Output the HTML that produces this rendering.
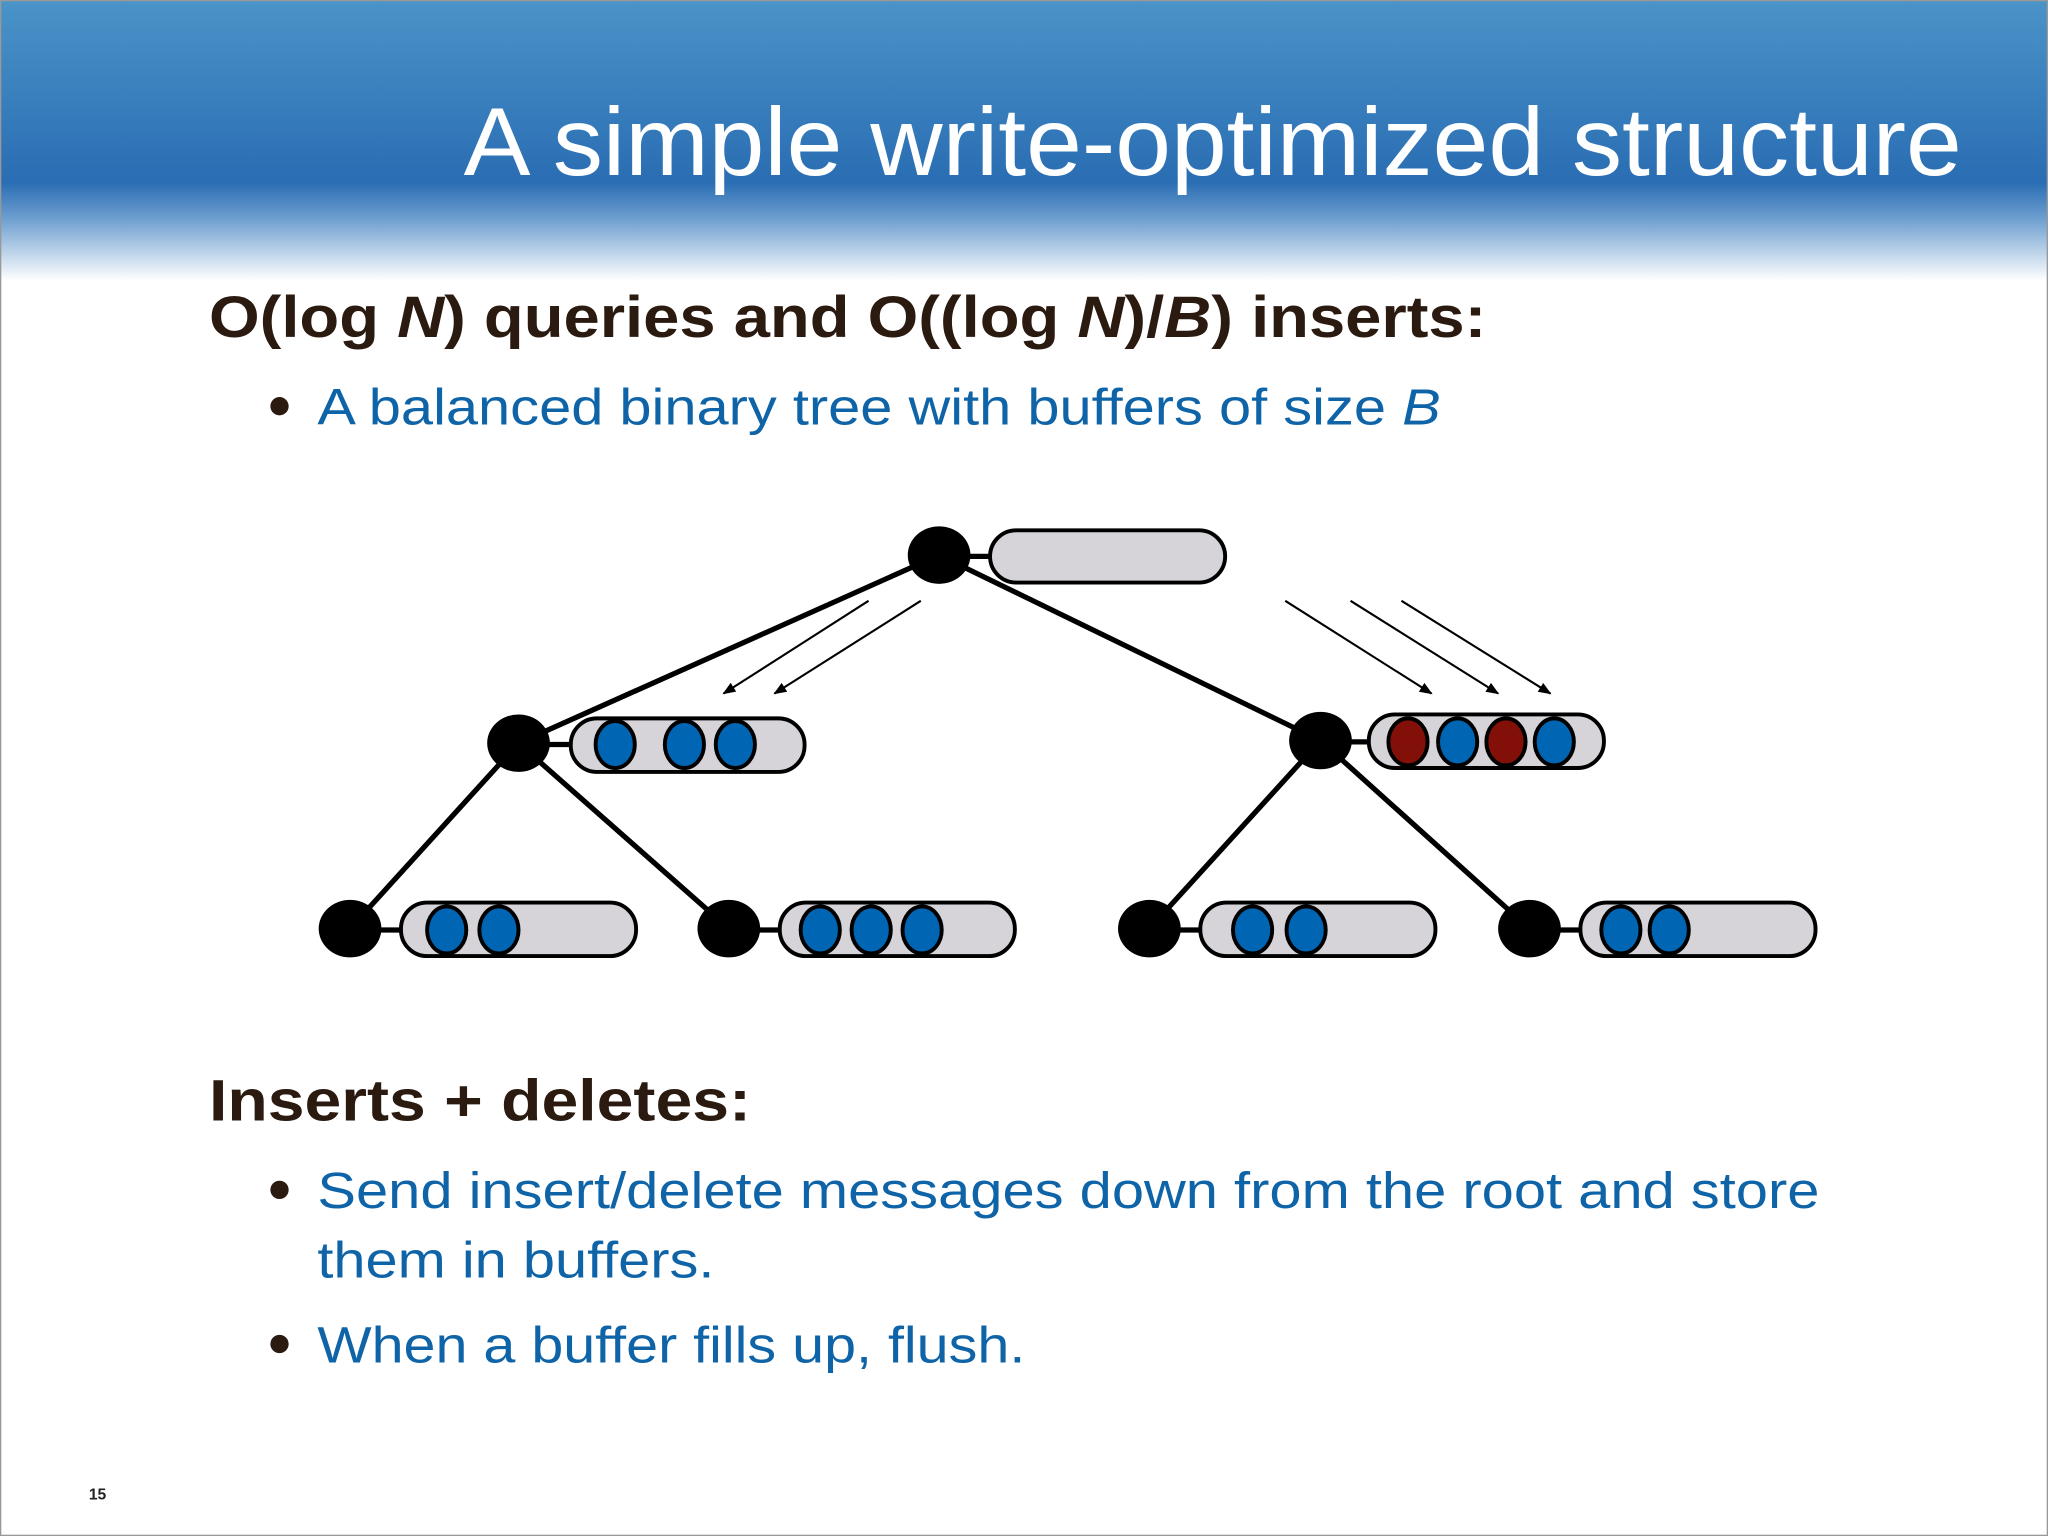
<!DOCTYPE html>
<html><head><meta charset="utf-8"><style>
html,body{margin:0;padding:0;background:#fff;}
svg{display:block;}
</style></head><body>
<svg width="2048" height="1536" viewBox="0 0 1568 1176" xmlns="http://www.w3.org/2000/svg">
<defs>
<linearGradient id="hd" x1="0" y1="0" x2="0" y2="1">
<stop offset="0" stop-color="#4a94c8"/>
<stop offset="0.65" stop-color="#2a6db3"/>
<stop offset="0.78" stop-color="#6f9fd0"/>
<stop offset="1" stop-color="#ffffff"/>
</linearGradient>
<marker id="ah" markerWidth="10" markerHeight="8" refX="9" refY="4" orient="auto" markerUnits="userSpaceOnUse">
<path d="M0,0 L10,4 L0,8 Z" fill="#000"/>
</marker>
</defs>
<rect x="0" y="0" width="1568" height="1176" fill="#fff"/>
<rect x="0" y="0" width="1568" height="215" fill="url(#hd)"/>
<rect x="0.5" y="0.5" width="1567" height="1175" fill="none" stroke="#999" stroke-width="1"/>
<text x="355" y="134" textLength="1147" lengthAdjust="spacingAndGlyphs" font-family="Liberation Sans, sans-serif" font-size="74" fill="#fff">A simple write-optimized structure</text>
<g font-family="Liberation Sans, sans-serif">
<text x="160" y="258" textLength="978" lengthAdjust="spacingAndGlyphs" font-size="45" font-weight="bold" fill="#2a1a10">O(log <tspan font-style="italic">N</tspan>) queries and O((log <tspan font-style="italic">N</tspan>)/<tspan font-style="italic">B</tspan>) inserts:</text>
<circle cx="214" cy="311" r="7" fill="#2a1a10"/>
<text x="243" y="325" textLength="860" lengthAdjust="spacingAndGlyphs" font-size="39" fill="#0f64a8">A balanced binary tree with buffers of size <tspan font-style="italic">B</tspan></text>
<text x="160" y="858" textLength="415" lengthAdjust="spacingAndGlyphs" font-size="45" font-weight="bold" fill="#2a1a10">Inserts + deletes:</text>
<circle cx="214" cy="911" r="7" fill="#2a1a10"/>
<text x="243" y="925" textLength="1150" lengthAdjust="spacingAndGlyphs" font-size="39" fill="#0f64a8">Send insert/delete messages down from the root and store</text>
<text x="243" y="978" textLength="304" lengthAdjust="spacingAndGlyphs" font-size="39" fill="#0f64a8">them in buffers.</text>
<circle cx="214" cy="1029" r="7" fill="#2a1a10"/>
<text x="243" y="1043" textLength="542" lengthAdjust="spacingAndGlyphs" font-size="39" fill="#0f64a8">When a buffer fills up, flush.</text>
<text x="68" y="1148" font-size="12" font-weight="bold" fill="#222">15</text>
</g>
<g stroke="#000" stroke-width="4">
<line x1="719" y1="425" x2="397" y2="569"/>
<line x1="719" y1="425" x2="1011" y2="567"/>
<line x1="397" y1="569" x2="268" y2="711"/>
<line x1="397" y1="569" x2="558" y2="711"/>
<line x1="1011" y1="567" x2="880" y2="711"/>
<line x1="1011" y1="567" x2="1171" y2="711"/>
<line x1="719" y1="426" x2="760" y2="426"/>
<line x1="397" y1="570" x2="440" y2="570"/>
<line x1="1011" y1="568" x2="1050" y2="568"/>
<line x1="268" y1="712" x2="310" y2="712"/>
<line x1="558" y1="712" x2="600" y2="712"/>
<line x1="880" y1="712" x2="922" y2="712"/>
<line x1="1171" y1="712" x2="1213" y2="712"/>
</g>
<g stroke="#000" stroke-width="1.6" marker-end="url(#ah)">
<line x1="665" y1="460" x2="554" y2="531"/>
<line x1="705" y1="460" x2="593" y2="531"/>
<line x1="984" y1="460" x2="1096" y2="531"/>
<line x1="1034" y1="460" x2="1147" y2="531"/>
<line x1="1073" y1="460" x2="1187" y2="531"/>
</g>
<g fill="#d6d4d8" stroke="#000" stroke-width="3">
<rect x="758" y="406" width="180" height="40" rx="20"/>
<rect x="437" y="550" width="179" height="41" rx="20"/>
<rect x="1048" y="547" width="180" height="41" rx="20"/>
<rect x="307" y="691" width="180" height="41" rx="20"/>
<rect x="597" y="691" width="180" height="41" rx="20"/>
<rect x="919" y="691" width="180" height="41" rx="20"/>
<rect x="1210" y="691" width="180" height="41" rx="20"/>
</g>
<g fill="#0066b3" stroke="#000" stroke-width="3">
<ellipse cx="471" cy="570" rx="15" ry="18"/>
<ellipse cx="524" cy="570" rx="15" ry="18"/>
<ellipse cx="563" cy="570" rx="15" ry="18"/>
<ellipse cx="1078" cy="568" rx="15" ry="18" fill="#831008"/>
<ellipse cx="1116" cy="568" rx="15" ry="18"/>
<ellipse cx="1153" cy="568" rx="15" ry="18" fill="#831008"/>
<ellipse cx="1190" cy="568" rx="15" ry="18"/>
<ellipse cx="342" cy="712" rx="15" ry="18"/>
<ellipse cx="382" cy="712" rx="15" ry="18"/>
<ellipse cx="628" cy="712" rx="15" ry="18"/>
<ellipse cx="667" cy="712" rx="15" ry="18"/>
<ellipse cx="706" cy="712" rx="15" ry="18"/>
<ellipse cx="959" cy="712" rx="15" ry="18"/>
<ellipse cx="1000" cy="712" rx="15" ry="18"/>
<ellipse cx="1241" cy="712" rx="15" ry="18"/>
<ellipse cx="1278" cy="712" rx="15" ry="18"/>
</g>
<g fill="#000">
<ellipse cx="719" cy="425" rx="24" ry="22"/>
<ellipse cx="397" cy="569" rx="24" ry="22"/>
<ellipse cx="1011" cy="567" rx="24" ry="22"/>
<ellipse cx="268" cy="711" rx="24" ry="22"/>
<ellipse cx="558" cy="711" rx="24" ry="22"/>
<ellipse cx="880" cy="711" rx="24" ry="22"/>
<ellipse cx="1171" cy="711" rx="24" ry="22"/>
</g>
</svg>
</body></html>
